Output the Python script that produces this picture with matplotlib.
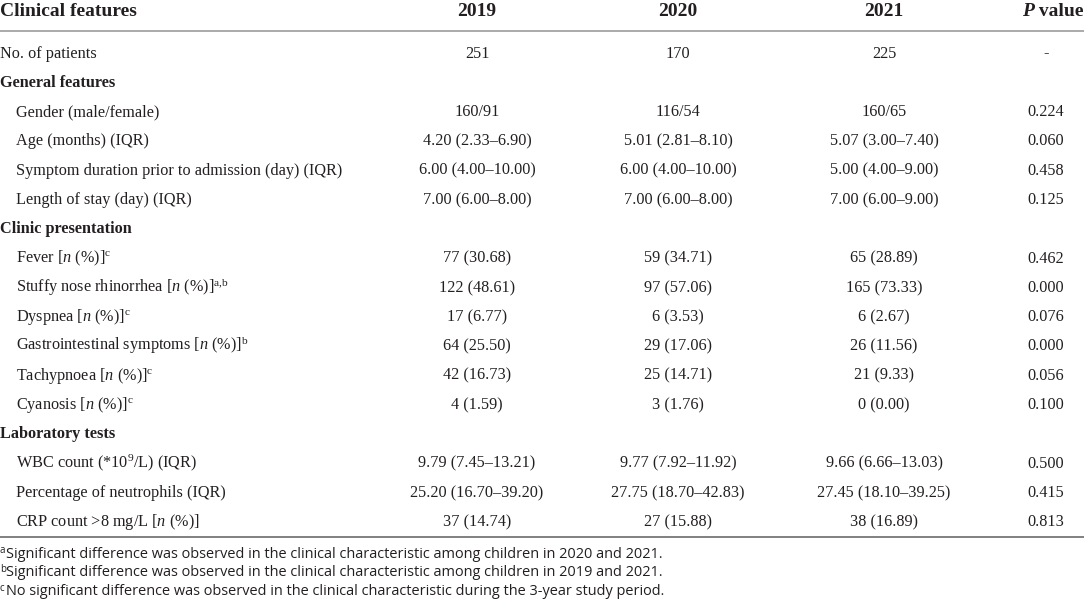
import matplotlib
matplotlib.use("Agg")
import matplotlib.pyplot as plt

plt.rcParams['mathtext.fontset'] = 'custom'
plt.rcParams['mathtext.rm'] = 'Liberation Serif'
plt.rcParams['mathtext.it'] = 'Liberation Serif:italic'
plt.rcParams['mathtext.bf'] = 'Liberation Serif:bold'

# ---- data ----
column_headers = ["Clinical features", "2019", "2020", "2021", "P value"]

feature_labels = [
    "No. of patients",
    "General features",
    "Gender (male/female)",
    "Age (months) (IQR)",
    "Symptom duration prior to admission (day) (IQR)",
    "Length of stay (day) (IQR)",
    "Clinic presentation",
    r"Fever [$\mathit{n}$ (%)]$^{\mathrm{c}}$",
    r"Stuffy nose rhinorrhea [$\mathit{n}$ (%)]$^{\mathrm{a{,}b}}$",
    r"Dyspnea [$\mathit{n}$ (%)]$^{\mathrm{c}}$",
    r"Gastrointestinal symptoms [$\mathit{n}$ (%)]$^{\mathrm{b}}$",
    r"Tachypnoea [$\mathit{n}$ (%)]$^{\mathrm{c}}$",
    r"Cyanosis [$\mathit{n}$ (%)]$^{\mathrm{c}}$",
    "Laboratory tests",
    r"WBC count (*10$^{\mathrm{9}}$/L) (IQR)",
    "Percentage of neutrophils (IQR)",
    r"CRP count >8 mg/L [$\mathit{n}$ (%)]",
]
section_rows = ["General features", "Clinic presentation", "Laboratory tests"]

values_2019 = ["251", "", "160/91", "4.20 (2.33–6.90)", "6.00 (4.00–10.00)",
               "7.00 (6.00–8.00)", "", "77 (30.68)", "122 (48.61)", "17 (6.77)",
               "64 (25.50)", "42 (16.73)", "4 (1.59)", "", "9.79 (7.45–13.21)",
               "25.20 (16.70–39.20)", "37 (14.74)"]
values_2020 = ["170", "", "116/54", "5.01 (2.81–8.10)", "6.00 (4.00–10.00)",
               "7.00 (6.00–8.00)", "", "59 (34.71)", "97 (57.06)", "6 (3.53)",
               "29 (17.06)", "25 (14.71)", "3 (1.76)", "", "9.77 (7.92–11.92)",
               "27.75 (18.70–42.83)", "27 (15.88)"]
values_2021 = ["225", "", "160/65", "5.07 (3.00–7.40)", "5.00 (4.00–9.00)",
               "7.00 (6.00–9.00)", "", "65 (28.89)", "165 (73.33)", "6 (2.67)",
               "26 (11.56)", "21 (9.33)", "0 (0.00)", "", "9.66 (6.66–13.03)",
               "27.45 (18.10–39.25)", "38 (16.89)"]
p_values = ["-", "", "0.224", "0.060", "0.458", "0.125", "", "0.462", "0.000",
            "0.076", "0.000", "0.056", "0.100", "", "0.500", "0.415", "0.813"]

footnote_marks = ["a", "b", "c"]
footnote_texts = [
    "Significant difference was observed in the clinical characteristic among children in 2020 and 2021.",
    "Significant difference was observed in the clinical characteristic among children in 2019 and 2021.",
    "No significant difference was observed in the clinical characteristic during the 3-year study period.",
]

# ---- layout ----
W, H = 1084, 608
fig = plt.figure(figsize=(W / 100, H / 100), dpi=100)
ax = fig.add_axes([0, 0, 1, 1])
ax.set_xlim(0, W)
ax.set_ylim(H, 0)
ax.axis("off")

TXT = "#231f20"
SERIF = "Liberation Serif"
body_fs = 11.7
head_fs = 14

col_x = [477, 678, 884]
p_x = 1046

# header (baseline positioned)
hb = 16
ax.text(0, hb, column_headers[0], fontsize=head_fs, fontweight="bold",
        family=SERIF, color=TXT, ha="left", va="baseline")
for x, h in zip(col_x, column_headers[1:4]):
    ax.text(x, hb, h, fontsize=head_fs, fontweight="bold", family=SERIF,
            color=TXT, ha="center", va="baseline")
fig.canvas.draw()
r = fig.canvas.get_renderer()
tv = ax.text(1083, hb, " value", fontsize=head_fs, fontweight="bold",
             family=SERIF, color=TXT, ha="right", va="baseline")
bb = tv.get_window_extent(renderer=r)
left_data = ax.transData.inverted().transform((bb.x0, 0))[0]
ax.text(left_data, hb, "P", fontsize=head_fs, fontweight="bold",
        fontstyle="italic", family=SERIF, color=TXT, ha="right", va="baseline")

ax.plot([0, W], [31, 31], color="#aaaaaa", lw=1.4, solid_capstyle="butt")

y0, dy = 52.5, 29.3
boff = 5
for i, lab in enumerate(feature_labels):
    y = y0 + i * dy + boff
    if lab in section_rows:
        ax.text(0, y, lab, fontsize=body_fs, fontweight="bold", family=SERIF,
                color=TXT, ha="left", va="baseline")
        continue
    indent = 0 if i == 0 else 16
    ax.text(indent, y, lab, fontsize=body_fs, family=SERIF, color=TXT,
            ha="left", va="baseline")
    for x, v in zip(col_x, (values_2019[i], values_2020[i], values_2021[i])):
        ax.text(x, y, v, fontsize=body_fs, family=SERIF, color=TXT,
                ha="center", va="baseline")
    ax.text(p_x, y, p_values[i], fontsize=body_fs, family=SERIF, color=TXT,
            ha="center", va="baseline")

ax.plot([0, W], [537, 537], color="#808080", lw=1.4, solid_capstyle="butt")

fy0, fdy = 557.5, 18.8
for k, (m, t) in enumerate(zip(footnote_marks, footnote_texts)):
    y = fy0 + k * fdy
    ax.text(0, y - 4.5, m, fontsize=7, family="Open Sans", color=TXT,
            ha="left", va="baseline")
    ax.text(5.5, y, t, fontsize=10.45, family="Open Sans", color=TXT,
            ha="left", va="baseline")

fig.savefig("out.png", dpi=100, facecolor="white")
